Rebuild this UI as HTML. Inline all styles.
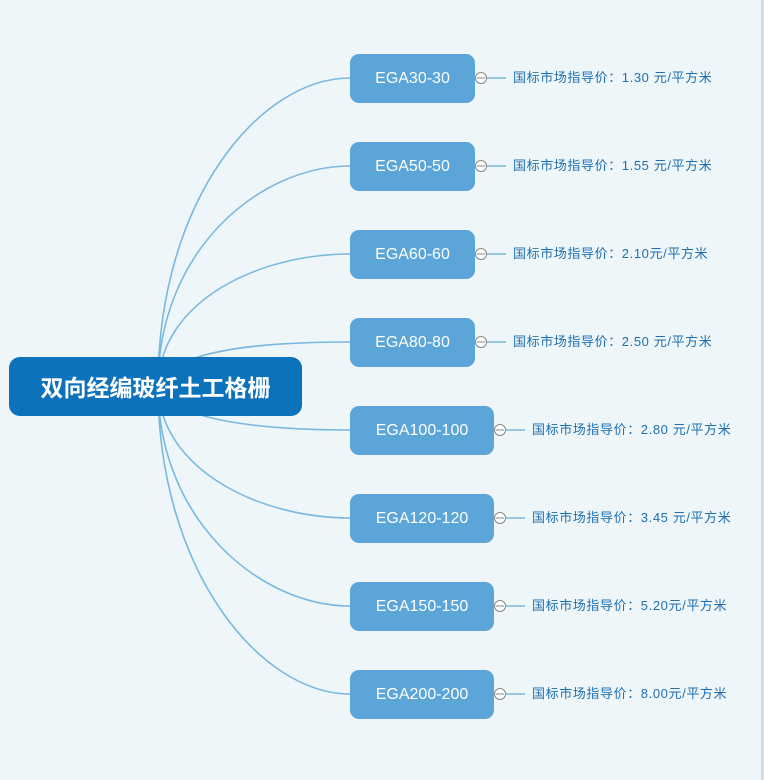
<!DOCTYPE html>
<html><head><meta charset="utf-8"><style>
html,body{margin:0;padding:0}
body{width:764px;height:780px;background:#eef6f9;position:relative;overflow:hidden;font-family:"Liberation Sans","Noto Sans CJK SC",sans-serif}
.edge{position:absolute;right:0;top:0;width:3px;height:780px;background:#d3dde2}
.root{position:absolute;left:9px;top:357px;width:293px;height:59px;background:#0b72bb;border-radius:11px;color:#fff;font-weight:bold;font-size:23px;line-height:59px;text-align:center;font-family:"Noto Sans CJK SC",sans-serif}
.n{position:absolute;left:350px;height:49px;background:#5ba5d8;border-radius:9px;color:#fff;font-size:16px;line-height:49px;text-align:center}
.t{position:absolute;font-size:13px;color:#1f6fb0;line-height:18px;white-space:nowrap;letter-spacing:0.6px}
</style></head><body>
<div class="edge"></div>
<svg width="764" height="780" style="position:absolute;left:0;top:0">
<g fill="none" stroke="#7ab9df" stroke-width="1.6">
<path d="M158 386 C158 200 260 78 350 78"/>
<path d="M158 386 C158 250 260 166 350 166"/>
<path d="M158 386 C160 300 260 254 350 254"/>
<path d="M158 386 C170 350 260 342 350 342"/>
<path d="M158 386 C170 420 260 430 350 430"/>
<path d="M158 386 C160 470 260 518 350 518"/>
<path d="M158 386 C158 520 260 606 350 606"/>
<path d="M158 386 C158 570 260 694 350 694"/>
<path d="M475 78H506M475 166H506M475 254H506M475 342H506"/>
<path d="M494 430H525M494 518H525M494 606H525M494 694H525"/>
</g>
<g fill="#fff" stroke="#888" stroke-width="1">
<circle cx="481" cy="78" r="5.5"/><circle cx="481" cy="166" r="5.5"/><circle cx="481" cy="254" r="5.5"/><circle cx="481" cy="342" r="5.5"/>
<circle cx="500" cy="430" r="5.5"/><circle cx="500" cy="518" r="5.5"/><circle cx="500" cy="606" r="5.5"/><circle cx="500" cy="694" r="5.5"/>
</g>
<g stroke="#888" stroke-width="1">
<path d="M477 78h8M477 166h8M477 254h8M477 342h8M496 430h8M496 518h8M496 606h8M496 694h8"/>
</g>
</svg>
<div class="root">双向经编玻纤土工格栅</div>
<div class="n" style="top:54px;width:125px">EGA30-30</div>
<div class="n" style="top:142px;width:125px">EGA50-50</div>
<div class="n" style="top:230px;width:125px">EGA60-60</div>
<div class="n" style="top:318px;width:125px">EGA80-80</div>
<div class="n" style="top:406px;width:144px">EGA100-100</div>
<div class="n" style="top:494px;width:144px">EGA120-120</div>
<div class="n" style="top:582px;width:144px">EGA150-150</div>
<div class="n" style="top:670px;width:144px">EGA200-200</div>
<div class="t" style="left:513px;top:69px">国标市场指导价：1.30 元/平方米</div>
<div class="t" style="left:513px;top:157px">国标市场指导价：1.55 元/平方米</div>
<div class="t" style="left:513px;top:245px">国标市场指导价：2.10元/平方米</div>
<div class="t" style="left:513px;top:333px">国标市场指导价：2.50 元/平方米</div>
<div class="t" style="left:532px;top:421px">国标市场指导价：2.80 元/平方米</div>
<div class="t" style="left:532px;top:509px">国标市场指导价：3.45 元/平方米</div>
<div class="t" style="left:532px;top:597px">国标市场指导价：5.20元/平方米</div>
<div class="t" style="left:532px;top:685px">国标市场指导价：8.00元/平方米</div>
</body></html>
